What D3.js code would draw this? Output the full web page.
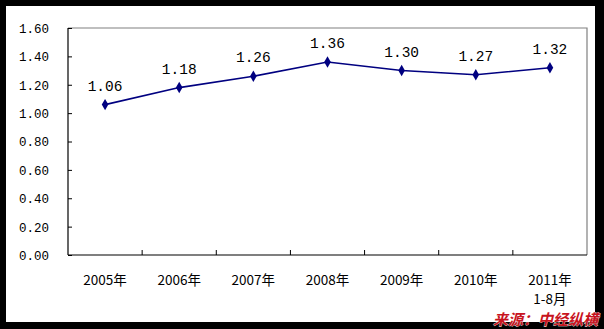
<!DOCTYPE html>
<html><head><meta charset="utf-8">
<script src="https://cdn.jsdelivr.net/npm/d3@7/dist/d3.min.js"></script>
<style>body{margin:0;background:#000;}svg{display:block;}</style>
</head><body>
<script>
const categories = ["2005年","2006年","2007年","2008年","2009年","2010年","2011年"];
const subLabels = ["","","","","","","1-8月"];
const values = [1.06, 1.18, 1.26, 1.36, 1.30, 1.27, 1.32];
const yTicks = [0, 0.2, 0.4, 0.6, 0.8, 1.0, 1.2, 1.4, 1.6];
const sourceText = "来源：中经纵横";

const W = 604, H = 329;
const svg = d3.select("body").append("svg").attr("width", W).attr("height", H);
svg.append("rect").attr("width", W).attr("height", H).attr("fill", "#000");
svg.append("rect").attr("x", 6).attr("y", 6).attr("width", 589).attr("height", 316).attr("fill", "#fff");

const L = 68, R = 587, T = 28, B = 255;
const x = d3.scaleBand().domain(categories).range([L, R]).padding(0);
const y = d3.scaleLinear().domain([0, 1.6]).range([B, T]);

// plot border (gray top/right)
svg.append("path").attr("d", `M${L},${T}H${R}V${B}`).attr("fill", "none").attr("stroke", "#808080").attr("stroke-width", 1.2);

// y axis
const yAxis = d3.axisRight(y).tickValues(yTicks).tickSize(4).tickFormat(d => d3.format(".2f")(d));
const gy = svg.append("g").attr("transform", `translate(${L},0)`).call(yAxis);
gy.select(".domain").attr("stroke", "#000").attr("stroke-width", 1.2).attr("d", `M0,${T}V${B}`);
gy.selectAll(".tick line").attr("stroke", "#000");
gy.selectAll(".tick text").attr("x", -19).attr("text-anchor", "end")
  .attr("font-family", "'Liberation Mono', monospace").attr("font-size", 12.5).attr("fill", "#000").attr("dy", "0.35em");

// x axis
const gx = svg.append("g").attr("transform", `translate(0,${B})`);
gx.append("path").attr("d", `M${L},0H${R}`).attr("stroke", "#000").attr("stroke-width", 1.2);
const edges = categories.map(c => x(c)).concat([R]).slice(1, -1);
gx.selectAll("line.tk").data(edges).enter().append("line")
  .attr("x1", d => d).attr("x2", d => d).attr("y1", 0).attr("y2", -5).attr("stroke", "#000");
gx.selectAll("text.cat").data(categories).enter().append("text")
  .attr("x", d => x(d) + x.bandwidth() / 2).attr("y", 30).attr("text-anchor", "middle")
  .attr("font-family", "'Noto Sans CJK SC', sans-serif").attr("font-size", 13.5).attr("fill", "#000").text(d => d);
gx.selectAll("text.sub").data(subLabels).enter().append("text")
  .attr("x", (d, i) => x(categories[i]) + x.bandwidth() / 2).attr("y", 48.5).attr("text-anchor", "middle")
  .attr("font-family", "'Noto Sans CJK SC', sans-serif").attr("font-size", 13.5).attr("fill", "#000").text(d => d);

// line
const cx = (d, i) => x(categories[i]) + x.bandwidth() / 2;
const line = d3.line().x((d, i) => cx(d, i)).y(d => y(d));
svg.append("path").datum(values).attr("d", line).attr("fill", "none").attr("stroke", "#000080").attr("stroke-width", 1.6);
svg.selectAll("path.mk").data(values).enter().append("path")
  .attr("d", d3.symbol().type(d3.symbolDiamond).size(38))
  .attr("transform", (d, i) => `translate(${cx(d, i)},${y(d)})`).attr("fill", "#000080");

// data labels
svg.selectAll("text.lbl").data(values).enter().append("text")
  .attr("x", (d, i) => cx(d, i)).attr("y", d => y(d) - 14).attr("text-anchor", "middle")
  .attr("font-family", "'Liberation Mono', monospace").attr("font-size", 14.5).attr("fill", "#000")
  .text(d => d3.format(".2f")(d));

// source
svg.append("text").attr("x", 598).attr("y", 325).attr("text-anchor", "end")
  .attr("font-family", "'Noto Sans CJK SC', sans-serif").attr("font-weight", "bold").attr("font-style", "italic")
  .attr("font-size", 15).attr("fill", "#c8141e").attr("stroke", "#fff").attr("stroke-width", 0.6).attr("paint-order", "stroke")
  .text(sourceText);
</script>
</body></html>
